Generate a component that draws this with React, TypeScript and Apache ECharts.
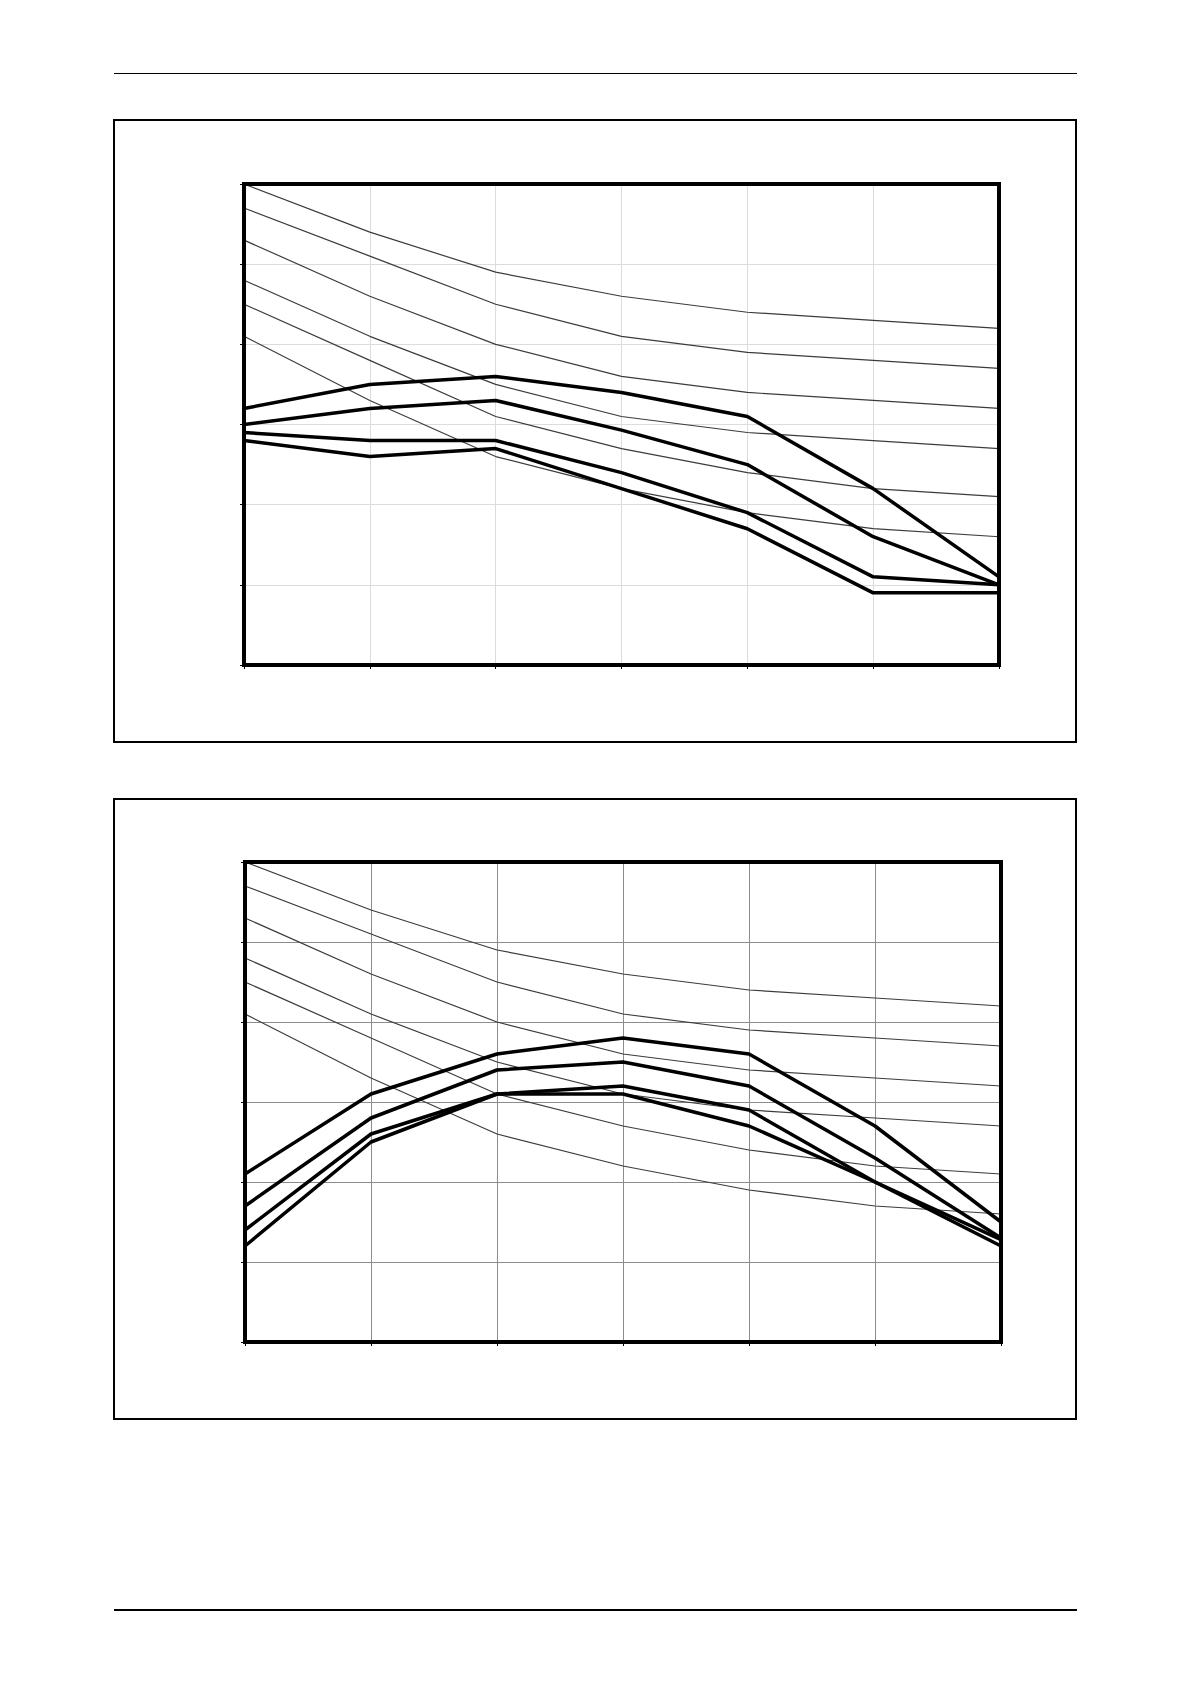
import React, { useEffect, useRef } from "react";
import * as echarts from "echarts";

// x positions (7 points) and y axis range
const xValues = [0, 1, 2, 3, 4, 5, 6];
const yMin = 0;
const yMax = 6;

// Thin reference curves (same in both charts)
const thin1 = [6.0, 5.4, 4.9, 4.6, 4.4, 4.3, 4.2];
const thin2 = [5.7, 5.1, 4.5, 4.1, 3.9, 3.8, 3.7];
const thin3 = [5.3, 4.6, 4.0, 3.6, 3.4, 3.3, 3.2];
const thin4 = [4.8, 4.1, 3.5, 3.1, 2.9, 2.8, 2.7];
const thin5 = [4.5, 3.8, 3.1, 2.7, 2.4, 2.2, 2.1];
const thin6 = [4.1, 3.3, 2.6, 2.2, 1.9, 1.7, 1.6];

// Chart 1 thick curves
const top1 = [3.2, 3.5, 3.6, 3.4, 3.1, 2.2, 1.1];
const top2 = [3.0, 3.2, 3.3, 2.93, 2.5, 1.6, 1.0];
const top3 = [2.9, 2.8, 2.8, 2.4, 1.9, 1.1, 1.0];
const top4 = [2.8, 2.6, 2.7, 2.2, 1.7, 0.9, 0.9];

// Chart 2 thick curves
const bot1 = [2.1, 3.1, 3.6, 3.8, 3.6, 2.7, 1.5];
const bot2 = [1.7, 2.8, 3.4, 3.5, 3.2, 2.3, 1.3];
const bot3 = [1.4, 2.6, 3.1, 3.2, 2.9, 2.0, 1.28];
const bot4 = [1.2, 2.5, 3.1, 3.1, 2.7, 2.0, 1.2];

const thinSet = [thin1, thin2, thin3, thin4, thin5, thin6];
const topThick = [top1, top2, top3, top4];
const botThick = [bot1, bot2, bot3, bot4];

const pairs = (ys: number[]) => ys.map((y, i) => [xValues[i], y]);

export default function App() {
  const ref = useRef<HTMLDivElement>(null);
  useEffect(() => {
    if (!ref.current) return;
    const chart = echarts.init(ref.current, undefined, { renderer: "svg" });

    const mkX = (gridIndex: number, gridColor: string) => ({
      type: "value",
      gridIndex,
      min: 0,
      max: 6,
      interval: 1,
      axisLabel: { show: false },
      axisLine: { show: false },
      axisTick: { show: true, inside: false, length: 4, lineStyle: { color: "#000", width: 1 } },
      splitLine: { show: true, showMinLine: false, showMaxLine: false, lineStyle: { color: gridColor, width: 1 } },
    });
    const mkY = (gridIndex: number, gridColor: string) => ({
      type: "value",
      gridIndex,
      min: yMin,
      max: yMax,
      interval: 1,
      axisLabel: { show: false },
      axisLine: { show: false },
      axisTick: { show: true, inside: false, length: 4, lineStyle: { color: "#000", width: 1 } },
      splitLine: { show: true, showMinLine: false, showMaxLine: false, lineStyle: { color: gridColor, width: 1 } },
    });

    const series: any[] = [];
    [0, 1].forEach((g) => {
      thinSet.forEach((d, i) => {
        series.push({
          type: "line",
          name: `thin${g}-${i}`,
          xAxisIndex: g,
          yAxisIndex: g,
          data: pairs(d),
          symbol: "none",
          lineStyle: { color: "#3c3c3c", width: 1.2 },
          z: 3,
        });
      });
      (g === 0 ? topThick : botThick).forEach((d, i) => {
        series.push({
          type: "line",
          name: `thick${g}-${i}`,
          xAxisIndex: g,
          yAxisIndex: g,
          data: pairs(d),
          symbol: "none",
          lineStyle: { color: "#000", width: 3.5 },
          z: 4,
        });
      });
    });

    chart.setOption({
      animation: false,
      backgroundColor: "#fff",
      grid: [
        { left: 244, top: 184, width: 755, height: 481, show: true, borderColor: "#000", borderWidth: 4, backgroundColor: "transparent", z: 5 },
        { left: 245, top: 862, width: 756, height: 480, show: true, borderColor: "#000", borderWidth: 4, backgroundColor: "transparent", z: 5 },
      ],
      xAxis: [mkX(0, "#dcdcdc"), mkX(1, "#8c8c8c")],
      yAxis: [mkY(0, "#dcdcdc"), mkY(1, "#8c8c8c")],
      series,
      graphic: [
        { type: "line", shape: { x1: 114, y1: 73.5, x2: 1077, y2: 73.5 }, style: { stroke: "#000", lineWidth: 1.2 } },
        { type: "rect", shape: { x: 114, y: 120, width: 962, height: 622 }, style: { fill: "none", stroke: "#000", lineWidth: 2 } },
        { type: "rect", shape: { x: 114, y: 799, width: 962, height: 620 }, style: { fill: "none", stroke: "#000", lineWidth: 2 } },
        { type: "line", shape: { x1: 114, y1: 1610, x2: 1077, y2: 1610 }, style: { stroke: "#000", lineWidth: 2 } },
      ],
    });
    return () => chart.dispose();
  }, []);
  return (
    <div
      ref={ref}
      style={{ position: "absolute", left: 0, top: 0, width: 1191, height: 1684, background: "#fff" }}
    />
  );
}
